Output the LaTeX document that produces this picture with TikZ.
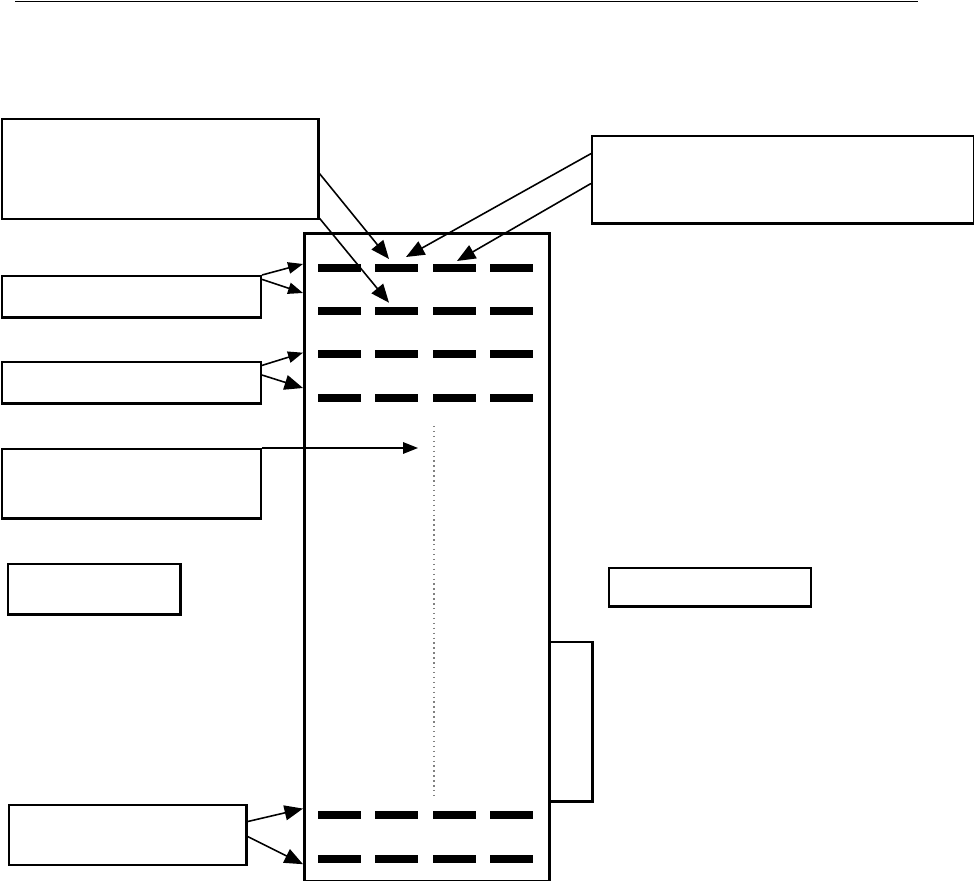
\documentclass[tikz,border=0pt]{standalone}
\usetikzlibrary{positioning, arrows.meta}

\tikzset{
  box/.style={draw, line width=1.2pt, rectangle, inner sep=0pt, anchor=north west},
  pointer/.style={-{Triangle[length=8.5pt,width=6.5pt]}, line width=0.9pt},
  bigpointer/.style={-{Triangle[length=10.5pt,width=8.5pt]}, line width=0.9pt},
  band/.style={fill=black}
}

\begin{document}
\begin{tikzpicture}[x=0.02cm, y=-0.02cm]
                \useasboundingbox (0,0) rectangle (974,881);
                \draw[line width=0.9pt] (15,1.5) -- (918,1.5);

                % boxes
                \node[box, minimum width=6.33cm, minimum height=2cm] (Top Left) at (1,118) {};
                \node[box, minimum width=7.64cm, minimum height=1.75cm] (Top Right) at (591,135) {};
                \node[box, minimum width=5.18cm, minimum height=0.83cm] (Row Pair One) at (1,275) {};
                \node[box, minimum width=5.18cm, minimum height=0.83cm] (Row Pair Two) at (1,361) {};
                \node[box, minimum width=5.18cm, minimum height=1.39cm] (Middle Left) at (1,448) {};
                \node[box, minimum width=3.45cm, minimum height=1.01cm] (Small Left) at (7,563) {};
                \node[box, minimum width=4.04cm, minimum height=0.77cm] (Small Right) at (608,567) {};
                \node[box, minimum width=4.75cm, minimum height=1.2cm] (Bottom Left) at (8,804) {};
                \node[box, minimum width=0.87cm, minimum height=3.19cm] (Side) at (548,641) {};
                \node[box, line width=1.7pt, minimum width=4.9cm, minimum height=12.96cm] (Gel) at (303,232) {};

                % bands
                \foreach \y in {267.7,311,354,397.7,815.4,858.8}
                  \foreach \x in {318,375,433,490}
                    \fill[band] (\x,\y-4) rectangle (\x+43,\y+4);

                \draw[gray, dotted, line width=0.8pt] (434,426) -- (434,799);

                % arrow ends
                \coordinate (TL tip one) at (389,259);
                \coordinate (TL tip two) at (389,302.7);
                \coordinate (TR tip one) at (406,257);
                \coordinate (TR tip two) at (457,261);
                \coordinate (ML tip) at (418,448);
                \coordinate (gel one) at (303,264);
                \coordinate (gel two) at (303,293);
                \coordinate (gel three) at (303,352.7);
                \coordinate (gel four) at (303,388);
                \coordinate (gel five) at (303,808.6);
                \coordinate (gel six) at (303,864.2);

                \draw[bigpointer] ([yshift=-2.6pt]Top Left.east) -- (TL tip one);
                \draw[bigpointer] ([yshift=1pt]Top Left.south east) -- (TL tip two);
                \draw[bigpointer] ([yshift=-10.6pt]Top Right.north west) -- (TR tip one);
                \draw[bigpointer] ([yshift=-27.6pt]Top Right.north west) -- (TR tip two);
                \draw[pointer] (Row Pair One.north east) -- (gel one);
                \draw[pointer] ([yshift=-2.5pt]Row Pair One.north east) -- (gel two);
                \draw[pointer] ([yshift=-2.5pt]Row Pair Two.north east) -- (gel three);
                \draw[bigpointer] ([yshift=-8pt]Row Pair Two.north east) -- (gel four);
                \draw[pointer] (Middle Left.north east) -- (ML tip);
                \draw[bigpointer] ([yshift=-10pt]Bottom Left.north east) -- (gel five);
                \draw[bigpointer] ([yshift=-18.5pt]Bottom Left.north east) -- (gel six);

            \end{tikzpicture}
\end{document}
